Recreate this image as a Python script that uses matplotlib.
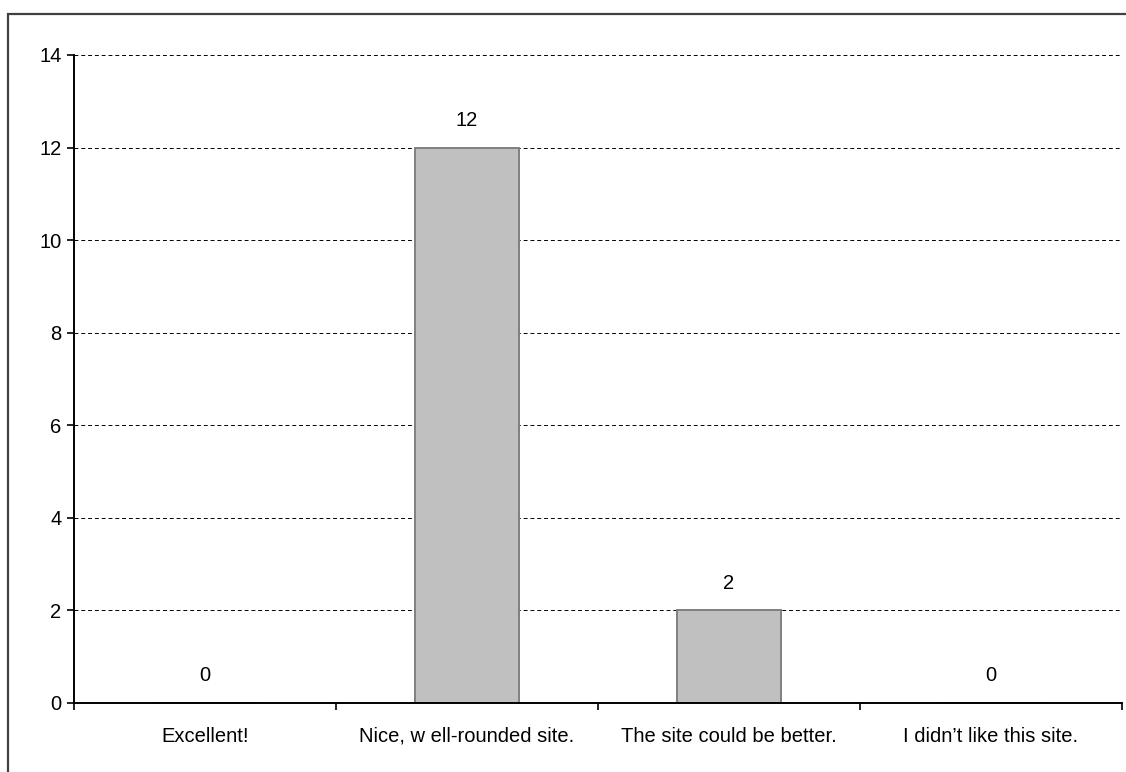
import matplotlib
matplotlib.use("Agg")
import matplotlib.pyplot as plt
from matplotlib.patches import Rectangle
import numpy as np

categories = ["Excellent!", "Nice, w ell-rounded site.", "The site could be better.",
              "I didn\u2019t like this site."]
counts = [0, 12, 2, 0]
y_ticks = [0, 2, 4, 6, 8, 10, 12, 14]

plt.rcParams["font.family"] = ["Liberation Sans", "DejaVu Sans"]
FS = 14.5

fig = plt.figure(figsize=(11.26, 7.72), dpi=100)
ax = fig.add_axes([74 / 1126, 1 - 703 / 772, (1122 - 74) / 1126, (703 - 55) / 772])

# outer chart-area frame
fig.patches.append(Rectangle((8 / 1126, -0.05), 1.2, 1 - 14 / 772 + 0.05,
                             transform=fig.transFigure, fill=False,
                             edgecolor="#404040", linewidth=1.6, zorder=0))

x = np.arange(len(categories))
ax.bar(x, counts, width=0.4, color="#C0C0C0", edgecolor="#808080",
       linewidth=1.4, zorder=2)

for xi, v in zip(x, counts):
    ax.annotate(str(v), (xi, v), xytext=(0, 19.5), textcoords="offset points",
                ha="center", va="center", fontsize=FS)

ax.set_xlim(-0.5, len(categories) - 0.5)
ax.set_ylim(0, 14)
ax.set_yticks(y_ticks)
ax.set_yticklabels([str(t) for t in y_ticks], fontsize=FS)
ax.yaxis.grid(True, linestyle=(0, (4, 3)), color="black", linewidth=0.7)
ax.set_axisbelow(True)

# category labels at centres, tick marks at category boundaries
ax.set_xticks(x)
ax.set_xticklabels(categories, fontsize=FS)
ax.tick_params(axis="x", length=0, pad=17)
ax.set_xticks(np.arange(len(categories) + 1) - 0.5, minor=True)
ax.tick_params(axis="x", which="minor", length=5, width=1.2, direction="out")
ax.tick_params(axis="y", length=5, width=1.2, direction="out", pad=4)

for side in ("top", "right"):
    ax.spines[side].set_visible(False)
for side in ("left", "bottom"):
    ax.spines[side].set_linewidth(1.4)
    ax.spines[side].set_zorder(3)

fig.savefig("out.png", dpi=100)
